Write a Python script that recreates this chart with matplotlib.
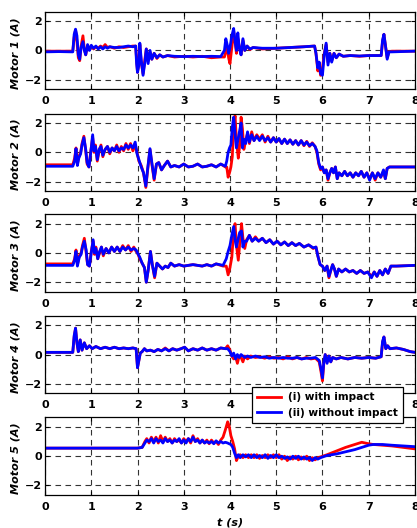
import numpy as np
import matplotlib
matplotlib.use('Agg')
import matplotlib.pyplot as plt

plt.rcParams['font.family'] = ['DejaVu Sans']
plt.rcParams['font.weight'] = 'bold'

# motor currents: time grid, (i) with impact, (ii) without impact
m1_t = [0.00, 0.30, 0.60, 0.63, 0.66, 0.69, 0.72, 0.75, 0.78, 0.82, 0.85, 0.88, 0.92, 0.96,
        1.00, 1.05, 1.10, 1.15, 1.20, 1.25, 1.30, 1.35, 1.40, 1.50, 1.60, 1.70, 1.80, 1.90,
        1.96, 1.98, 2.00, 2.03, 2.05, 2.08, 2.12, 2.16, 2.19, 2.23, 2.27, 2.31, 2.36, 2.42,
        2.48, 2.55, 2.65, 2.80, 3.00, 3.20, 3.40, 3.60, 3.80, 3.88, 3.91, 3.94, 3.97, 4.00,
        4.04, 4.08, 4.11, 4.14, 4.17, 4.20, 4.24, 4.28, 4.32, 4.37, 4.43, 4.50, 4.70, 5.00,
        5.30, 5.60, 5.83, 5.86, 5.90, 5.93, 5.96, 6.00, 6.04, 6.08, 6.12, 6.16, 6.20, 6.25,
        6.30, 6.36, 6.45, 6.60, 6.80, 7.00, 7.27, 7.30, 7.33, 7.36, 7.40, 7.44, 7.50, 8.00]
m1_imp = [-0.05, -0.05, -0.05, 0.90, 1.40, 0.60, -0.50, -0.70, 0.30, 1.00, 0.10, -0.30, 0.30, 0.10,
          0.30, 0.10, 0.25, 0.15, 0.30, 0.20, 0.40, 0.20, 0.25, 0.15, 0.25, 0.20, 0.25, 0.30,
          0.30, -0.60, -1.50, -0.80, 0.40, -0.80, -1.60, -0.60, 0.10, -0.70, -0.10, -0.60, -0.20, -0.55,
          -0.30, -0.45, -0.35, -0.45, -0.40, -0.45, -0.40, -0.50, -0.45, -0.45, -0.10, 0.30, -0.50, -0.90,
          0.20, 1.30, 0.60, -0.20, 0.80, 0.30, -0.30, 0.70, 0.00, 0.30, 0.05, 0.20, 0.10, 0.15,
          0.20, 0.25, 0.30, -0.20, -1.40, -1.00, -1.70, -1.20, -0.20, 0.40, -0.80, -0.20, -0.70, -0.20,
          -0.50, -0.25, -0.40, -0.35, -0.40, -0.35, -0.35, 0.60, 1.10, 0.40, -0.50, -0.10, -0.05, -0.05]
m1_free = [-0.10, -0.08, -0.10, 1.10, 1.45, 1.00, -0.30, -0.60, 0.20, 0.60, 0.00, -0.30, 0.40, 0.00,
           0.35, 0.15, 0.30, 0.10, 0.25, 0.10, 0.25, 0.15, 0.25, 0.20, 0.20, 0.25, 0.30, 0.25,
           0.30, -0.90, -1.50, -1.00, 0.50, -0.60, -1.70, -0.80, 0.10, -0.90, 0.00, -0.60, -0.20, -0.50,
           -0.30, -0.45, -0.35, -0.40, -0.42, -0.40, -0.42, -0.40, -0.42, 0.00, 0.80, 0.40, -0.20, 0.20,
           1.00, 1.50, 0.60, 0.00, 1.20, 0.20, -0.30, 0.80, 0.00, 0.30, 0.10, 0.20, 0.15, 0.15,
           0.20, 0.25, 0.30, -0.20, -1.20, -0.80, -1.60, -1.70, -0.30, 0.50, -1.00, -0.20, -0.80, -0.20,
           -0.50, -0.25, -0.40, -0.35, -0.38, -0.35, -0.35, 0.70, 1.10, 0.40, -0.60, -0.10, -0.10, -0.05]

m2_t = [0.00, 0.60, 0.64, 0.67, 0.70, 0.73, 0.77, 0.80, 0.84, 0.88, 0.91, 0.95, 0.99, 1.03,
        1.06, 1.09, 1.13, 1.17, 1.21, 1.25, 1.30, 1.35, 1.40, 1.45, 1.50, 1.55, 1.60, 1.65,
        1.70, 1.75, 1.80, 1.85, 1.90, 1.95, 1.99, 2.03, 2.08, 2.13, 2.18, 2.22, 2.27, 2.31,
        2.36, 2.41, 2.46, 2.52, 2.58, 2.65, 2.72, 2.80, 2.90, 3.00, 3.10, 3.20, 3.30, 3.40,
        3.50, 3.60, 3.70, 3.80, 3.90, 3.93, 3.96, 3.99, 4.02, 4.05, 4.08, 4.11, 4.14, 4.18,
        4.21, 4.24, 4.27, 4.30, 4.34, 4.38, 4.42, 4.47, 4.52, 4.58, 4.64, 4.70, 4.76, 4.82,
        4.88, 4.94, 5.00, 5.06, 5.12, 5.18, 5.24, 5.30, 5.36, 5.42, 5.48, 5.54, 5.60, 5.66,
        5.72, 5.78, 5.84, 5.88, 5.92, 5.96, 6.00, 6.04, 6.08, 6.12, 6.16, 6.20, 6.24, 6.28,
        6.32, 6.36, 6.42, 6.48, 6.54, 6.60, 6.66, 6.72, 6.78, 6.84, 6.90, 6.96, 7.02, 7.08,
        7.14, 7.20, 7.26, 7.32, 7.36, 7.40, 7.45, 7.55, 8.00]
m2_imp = [-0.85, -0.85, -0.40, 0.30, -0.80, -0.30, 0.00, 0.60, 1.10, 0.10, -0.80, -1.00, 0.10, 1.00,
          0.00, 0.50, -0.60, 0.10, 0.50, -0.30, 0.20, 0.40, -0.10, 0.30, 0.10, 0.50, 0.00, 0.40,
          0.10, 0.60, 0.20, 0.60, 0.10, 0.50, 0.00, -0.60, -0.90, -1.40, -2.40, -1.20, 0.20, -0.80,
          -1.90, -0.80, -0.70, -1.20, -0.90, -0.60, -1.00, -0.90, -1.00, -0.80, -1.00, -0.95, -0.80, -1.00,
          -0.95, -0.85, -1.00, -0.80, -1.00, -1.00, -1.70, -1.40, -1.00, -0.30, 1.80, 2.50, 0.80, -0.40,
          0.50, 2.40, 1.60, 0.20, 0.80, 1.30, 0.60, 1.40, 0.80, 1.20, 0.90, 1.20, 0.70, 1.10,
          0.70, 1.00, 0.70, 0.90, 0.60, 0.90, 0.60, 0.85, 0.55, 0.80, 0.50, 0.80, 0.45, 0.75,
          0.40, 0.65, 0.40, 0.00, -0.80, -1.20, -1.00, -1.40, -1.20, -1.90, -1.40, -1.10, -1.40, -1.00,
          -1.80, -1.40, -1.60, -1.30, -1.60, -1.40, -1.70, -1.40, -1.60, -1.30, -1.70, -1.40, -1.80, -1.40,
          -1.90, -1.40, -1.70, -1.30, -1.80, -1.10, -1.00, -1.00, -1.00]
m2_free = [-0.95, -0.95, -0.60, 0.25, -0.90, -0.40, -0.10, 0.50, 1.00, 0.20, -0.70, -1.00, 0.00, 1.20,
           0.10, 0.40, -0.50, 0.20, 0.40, -0.20, 0.20, 0.40, 0.00, 0.30, 0.10, 0.40, 0.10, 0.30,
           0.20, 0.50, 0.30, 0.50, 0.30, 0.70, -0.10, -0.50, -1.00, -1.40, -2.30, -1.10, 0.25, -0.70,
           -1.80, -0.80, -0.70, -1.20, -0.90, -0.60, -1.00, -0.90, -1.00, -0.80, -1.00, -0.95, -0.80, -1.00,
           -0.95, -0.85, -1.00, -0.80, -0.95, -0.60, 0.00, 0.30, 0.50, 1.70, 2.40, 1.20, 0.30, 1.00,
           1.50, 2.00, 0.30, 0.90, 0.60, 1.40, 0.70, 1.20, 0.80, 1.10, 0.80, 1.10, 0.80, 1.00,
           0.70, 1.00, 0.70, 0.95, 0.60, 0.90, 0.60, 0.85, 0.55, 0.80, 0.50, 0.80, 0.50, 0.70,
           0.45, 0.60, 0.40, 0.10, -0.70, -1.10, -1.00, -1.40, -1.20, -1.80, -1.40, -1.10, -1.40, -1.00,
           -1.80, -1.40, -1.60, -1.30, -1.60, -1.40, -1.70, -1.40, -1.60, -1.30, -1.70, -1.40, -1.90, -1.40,
           -1.80, -1.40, -1.70, -1.20, -1.80, -1.10, -1.00, -1.00, -1.00]

m3_t = [0.00, 0.60, 0.64, 0.67, 0.70, 0.74, 0.78, 0.81, 0.85, 0.89, 0.92, 0.96, 1.00, 1.04,
        1.07, 1.10, 1.14, 1.18, 1.22, 1.26, 1.32, 1.38, 1.44, 1.50, 1.56, 1.62, 1.68, 1.74,
        1.80, 1.86, 1.92, 1.97, 2.00, 2.05, 2.10, 2.15, 2.19, 2.23, 2.28, 2.32, 2.37, 2.42,
        2.48, 2.54, 2.60, 2.66, 2.72, 2.80, 2.90, 3.00, 3.20, 3.40, 3.50, 3.60, 3.70, 3.85,
        3.92, 3.96, 4.00, 4.04, 4.08, 4.11, 4.14, 4.18, 4.21, 4.25, 4.28, 4.32, 4.36, 4.42,
        4.48, 4.55, 4.62, 4.70, 4.78, 4.86, 4.94, 5.02, 5.10, 5.18, 5.26, 5.34, 5.42, 5.50,
        5.60, 5.70, 5.80, 5.86, 5.90, 5.95, 6.00, 6.05, 6.10, 6.14, 6.18, 6.22, 6.26, 6.30,
        6.35, 6.42, 6.50, 6.58, 6.66, 6.74, 6.82, 6.90, 6.98, 7.06, 7.12, 7.18, 7.24, 7.30,
        7.36, 7.42, 7.48, 7.60, 8.00]
m3_imp = [-0.75, -0.75, -0.40, 0.20, -0.80, -0.20, 0.00, 0.50, 1.00, 0.00, -0.80, -0.90, 0.10, 0.80,
          -0.10, 0.40, -0.40, 0.00, 0.40, -0.20, 0.30, 0.00, 0.40, 0.10, 0.40, 0.10, 0.50, 0.20,
          0.50, 0.10, 0.40, 0.10, 0.00, -0.40, -0.70, -1.00, -2.00, -1.20, 0.10, -0.80, -1.70, -0.70,
          -0.90, -1.10, -0.90, -1.00, -0.70, -0.90, -0.80, -0.90, -0.80, -0.90, -0.80, -0.90, -0.75, -0.90,
          -0.90, -1.50, -1.00, -0.30, 1.50, 2.00, 0.50, -0.50, 0.60, 2.00, 1.00, 0.30, 0.90, 1.20,
          0.80, 1.10, 0.80, 1.00, 0.70, 0.90, 0.60, 0.80, 0.55, 0.75, 0.50, 0.70, 0.50, 0.65,
          0.40, 0.55, 0.30, 0.40, -0.20, -0.80, -0.90, -1.20, -0.90, -1.70, -1.20, -0.80, -1.10, -1.60,
          -1.10, -1.30, -1.10, -1.30, -1.20, -1.40, -1.20, -1.40, -1.30, -1.60, -1.30, -1.60, -1.20, -1.50,
          -1.10, -1.40, -0.90, -0.90, -0.85]
m3_free = [-0.85, -0.85, -0.50, 0.10, -0.90, -0.30, -0.10, 0.40, 0.80, 0.20, -0.80, -0.90, 0.00, 0.90,
           0.00, 0.30, -0.40, 0.10, 0.40, -0.10, 0.30, 0.00, 0.40, 0.10, 0.40, 0.10, 0.40, 0.20,
           0.40, 0.20, 0.30, 0.20, 0.00, -0.30, -0.70, -1.00, -2.00, -1.20, 0.10, -0.80, -1.60, -0.70,
           -0.90, -1.10, -0.90, -1.00, -0.70, -0.90, -0.80, -0.90, -0.80, -0.90, -0.80, -0.90, -0.75, -0.85,
           -0.40, 0.10, 0.50, 1.20, 1.80, 0.90, 0.40, 1.00, 1.40, 1.50, 0.40, 0.80, 0.80, 1.20,
           0.80, 1.00, 0.80, 1.00, 0.70, 0.90, 0.60, 0.80, 0.55, 0.75, 0.50, 0.70, 0.50, 0.65,
           0.40, 0.55, 0.35, 0.40, -0.20, -0.80, -0.90, -1.20, -0.90, -1.60, -1.20, -0.80, -1.10, -1.60,
           -1.10, -1.30, -1.10, -1.30, -1.20, -1.40, -1.20, -1.40, -1.30, -1.70, -1.30, -1.60, -1.20, -1.50,
           -1.10, -1.40, -0.90, -0.90, -0.85]

m4_t = [0.00, 0.60, 0.63, 0.66, 0.69, 0.72, 0.76, 0.80, 0.85, 0.90, 0.96, 1.02, 1.10, 1.20,
        1.30, 1.40, 1.50, 1.60, 1.70, 1.80, 1.90, 1.97, 2.00, 2.03, 2.06, 2.10, 2.15, 2.20,
        2.28, 2.36, 2.44, 2.52, 2.60, 2.68, 2.76, 2.85, 2.94, 3.02, 3.10, 3.20, 3.30, 3.40,
        3.50, 3.60, 3.70, 3.80, 3.90, 3.95, 4.00, 4.04, 4.08, 4.12, 4.16, 4.20, 4.24, 4.28,
        4.32, 4.38, 4.45, 4.55, 4.65, 4.75, 4.85, 4.95, 5.05, 5.15, 5.25, 5.35, 5.45, 5.55,
        5.65, 5.75, 5.85, 5.93, 5.97, 6.00, 6.03, 6.06, 6.10, 6.14, 6.18, 6.22, 6.30, 6.40,
        6.55, 6.70, 6.85, 7.00, 7.15, 7.27, 7.30, 7.33, 7.37, 7.41, 7.46, 7.60, 7.75, 7.90, 8.00]
m4_imp = [0.15, 0.15, 1.20, 1.80, 0.80, 0.20, 1.00, 0.30, 0.80, 0.40, 0.60, 0.40, 0.55, 0.40,
          0.50, 0.40, 0.50, 0.40, 0.45, 0.40, 0.45, 0.40, -0.90, -0.40, 0.10, 0.20, 0.40, 0.25,
          0.30, 0.20, 0.35, 0.25, 0.45, 0.25, 0.40, 0.30, 0.40, 0.50, 0.25, 0.40, 0.30, 0.45,
          0.30, 0.40, 0.30, 0.45, 0.40, 0.60, 0.30, -0.10, -0.30, -0.10, -0.60, -0.10, -0.20, -0.50,
          -0.10, -0.30, -0.10, -0.20, -0.15, -0.25, -0.15, -0.25, -0.20, -0.30, -0.15, -0.30, -0.20, -0.30,
          -0.20, -0.30, -0.25, -0.50, -1.20, -1.80, -0.60, 0.00, -0.50, -0.10, -0.50, -0.20, -0.30, -0.20,
          -0.30, -0.20, -0.25, -0.20, -0.25, -0.15, 0.80, 1.20, 0.40, 0.60, 0.40, 0.45, 0.35, 0.20, 0.15]
m4_free = [0.15, 0.15, 1.30, 1.80, 0.80, 0.20, 1.00, 0.30, 0.80, 0.40, 0.60, 0.40, 0.55, 0.40,
           0.50, 0.40, 0.50, 0.40, 0.45, 0.40, 0.45, 0.40, -0.90, -0.40, 0.10, 0.20, 0.40, 0.25,
           0.30, 0.20, 0.35, 0.25, 0.40, 0.25, 0.40, 0.30, 0.40, 0.50, 0.25, 0.40, 0.30, 0.45,
           0.30, 0.40, 0.30, 0.45, 0.40, 0.40, 0.20, -0.10, 0.10, -0.30, 0.00, -0.20, 0.00, -0.10,
           -0.20, -0.10, -0.20, -0.10, -0.20, -0.15, -0.25, -0.20, -0.25, -0.20, -0.25, -0.25, -0.20, -0.30,
           -0.25, -0.25, -0.20, -0.40, -1.00, -1.60, -0.50, 0.00, -0.60, -0.10, -0.50, -0.20, -0.30, -0.20,
           -0.30, -0.20, -0.25, -0.20, -0.25, -0.15, 0.90, 1.20, 0.40, 0.60, 0.40, 0.45, 0.35, 0.20, 0.15]

m5_t = [0.00, 1.00, 2.00, 2.10, 2.16, 2.20, 2.25, 2.30, 2.35, 2.40, 2.45, 2.50, 2.55, 2.60,
        2.65, 2.70, 2.75, 2.80, 2.85, 2.90, 2.95, 3.00, 3.05, 3.10, 3.15, 3.20, 3.25, 3.30,
        3.35, 3.40, 3.45, 3.50, 3.55, 3.60, 3.65, 3.70, 3.75, 3.80, 3.85, 3.90, 3.95, 3.98,
        4.02, 4.06, 4.10, 4.14, 4.18, 4.22, 4.28, 4.34, 4.40, 4.46, 4.52, 4.58, 4.64, 4.70,
        4.76, 4.82, 4.88, 4.94, 5.00, 5.06, 5.12, 5.18, 5.24, 5.30, 5.36, 5.42, 5.48, 5.54,
        5.60, 5.66, 5.72, 5.78, 5.84, 5.90, 5.96, 6.10, 6.30, 6.50, 6.70, 6.85, 7.00, 7.10,
        7.30, 7.50, 7.75, 8.00]
m5_imp = [0.55, 0.55, 0.55, 0.60, 1.00, 1.20, 0.90, 1.30, 1.00, 1.30, 0.90, 1.40, 1.00, 1.30,
          1.00, 1.20, 0.90, 1.20, 1.00, 1.10, 0.90, 1.20, 1.00, 1.20, 0.90, 1.40, 1.00, 1.20,
          0.90, 1.10, 0.90, 1.10, 0.85, 1.10, 0.90, 1.00, 0.80, 1.10, 1.30, 1.80, 2.35, 2.10,
          1.40, 1.00, 0.50, -0.30, 0.00, 0.10, -0.10, 0.10, -0.10, 0.10, -0.10, 0.10, -0.15, 0.05,
          -0.10, 0.10, -0.10, 0.10, -0.10, 0.10, -0.20, 0.00, -0.30, -0.05, -0.20, 0.00, -0.25, -0.05,
          -0.20, 0.00, -0.30, -0.10, -0.25, -0.10, -0.05, 0.10, 0.35, 0.60, 0.80, 0.95, 0.85, 0.80,
          0.75, 0.70, 0.60, 0.50]
m5_free = [0.55, 0.55, 0.55, 0.60, 0.90, 1.10, 1.00, 1.20, 0.90, 1.20, 1.00, 1.10, 0.90, 1.20,
           1.00, 1.10, 0.90, 1.10, 1.00, 1.20, 0.90, 1.10, 0.90, 1.20, 1.00, 1.30, 1.00, 1.10,
           0.90, 1.10, 0.90, 1.00, 0.90, 1.00, 0.85, 1.05, 0.90, 1.00, 0.90, 0.95, 0.90, 0.85,
           0.80, 0.60, 0.20, -0.10, 0.10, -0.10, 0.10, -0.05, 0.10, -0.10, 0.10, -0.10, 0.05, -0.10,
           0.10, -0.15, 0.05, -0.10, 0.10, -0.10, 0.00, -0.15, -0.05, -0.20, 0.00, -0.15, 0.00, -0.20,
           -0.05, -0.20, -0.10, -0.30, -0.10, -0.20, -0.10, 0.05, 0.15, 0.30, 0.45, 0.60, 0.75, 0.80,
           0.80, 0.75, 0.70, 0.65]

motors = [
    ('Motor 1 (A)', m1_t, m1_imp, m1_free),
    ('Motor 2 (A)', m2_t, m2_imp, m2_free),
    ('Motor 3 (A)', m3_t, m3_imp, m3_free),
    ('Motor 4 (A)', m4_t, m4_imp, m4_free),
    ('Motor 5 (A)', m5_t, m5_imp, m5_free),
]
xticks = [0, 1, 2, 3, 4, 5, 6, 7, 8]
yticks = [-2, 0, 2]

fig = plt.figure(figsize=(4.17, 5.28), dpi=100)

# panel bottoms in figure fraction, top to bottom
bottoms = [0.831, 0.638, 0.4475, 0.255, 0.0625]
axes = []
for (label, t, imp, free), b in zip(motors, bottoms):
    ax = fig.add_axes([0.108, b, 0.887, 0.147])
    l1, = ax.plot(t, imp, color='#ff0000', lw=2.0, label='(i) with impact')
    l2, = ax.plot(t, free, color='#0000ff', lw=2.0, label='(ii) without impact')
    ax.set_xlim(0, 8)
    ax.set_ylim(-2.65, 2.65)
    ax.set_xticks(xticks)
    ax.set_yticks(yticks)
    ax.grid(True, color='#333333', linestyle=(0, (5, 4)), linewidth=0.8)
    ax.tick_params(direction='in', top=True, right=True, length=3, labelsize=8)
    ax.tick_params(axis='x', pad=5)
    ax.tick_params(axis='y', pad=2)
    for tl in ax.get_xticklabels() + ax.get_yticklabels():
        tl.set_fontweight('bold')
    for s in ax.spines.values():
        s.set_linewidth(0.9)
    ax.set_ylabel(label, fontsize=8, fontweight='bold', fontstyle='italic')
    ax.yaxis.set_label_coords(-0.066, 0.47)
    axes.append(ax)

ax.set_xlabel('t (s)', fontsize=8, fontweight='bold', fontstyle='italic', labelpad=4)

# tick labels 5-7 of the fourth panel sit under the legend box
for tl in axes[3].get_xticklabels()[5:8]:
    tl.set_visible(False)

leg = fig.legend([l1, l2], ['(i) with impact', '(ii) without impact'],
                 loc='upper left', bbox_to_anchor=(0.604, 0.267), borderaxespad=0,
                 fancybox=False, edgecolor='black', framealpha=1,
                 prop={'size': 7.6, 'weight': 'bold'}, handlelength=2.3,
                 borderpad=0.5, labelspacing=0.5, handletextpad=0.6)
leg.get_frame().set_linewidth(0.9)

fig.savefig('out.png', dpi=100)
